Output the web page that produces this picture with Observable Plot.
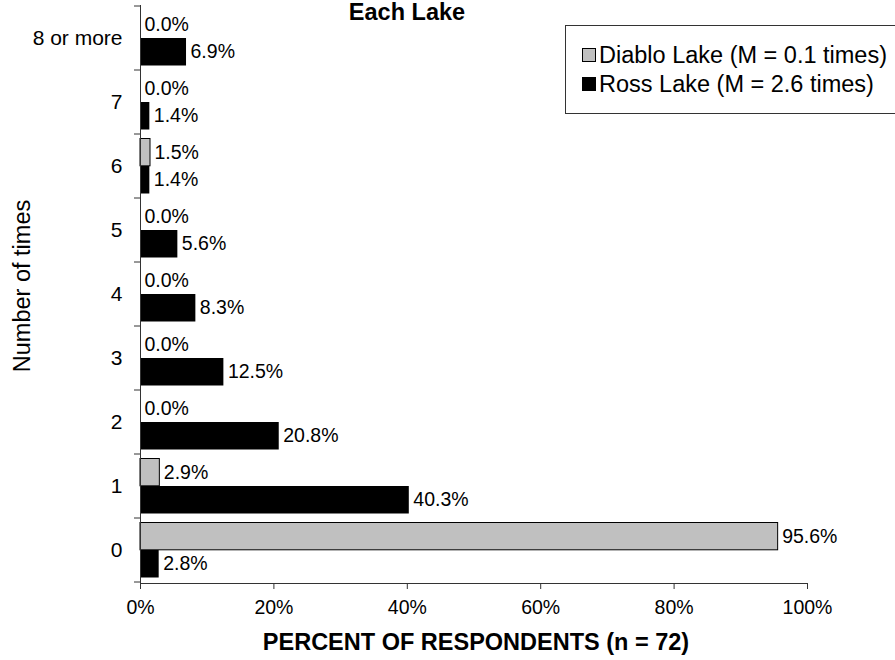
<!DOCTYPE html>
<html>
<head>
<meta charset="utf-8">
<script src="https://cdn.jsdelivr.net/npm/d3@7"></script>
<script src="https://cdn.jsdelivr.net/npm/@observablehq/plot@0.6"></script>
<style>
  html, body { margin: 0; padding: 0; background: #fff; }
  #chart { width: 895px; height: 660px; }
</style>
</head>
<body>
<div id="chart"></div>
<script>
// ---- data ----
const categories = ["8 or more", "7", "6", "5", "4", "3", "2", "1", "0"];
const diabloValues = [0.0, 0.0, 1.5, 0.0, 0.0, 0.0, 0.0, 2.9, 95.6];
const rossValues = [6.9, 1.4, 1.4, 5.6, 8.3, 12.5, 20.8, 40.3, 2.8];
const xTicks = [0, 20, 40, 60, 80, 100];
const seriesNames = ["Diablo Lake (M = 0.1 times)", "Ross Lake (M = 2.6 times)"];
const seriesColors = ["#c0c0c0", "#000000"];
const titleText = "Each Lake";
const xTitle = "PERCENT OF RESPONDENTS (n = 72)";
const yTitle = "Number of times";

const diablo = categories.map((c, i) => ({cat: c, value: diabloValues[i]}));
const ross = categories.map((c, i) => ({cat: c, value: rossValues[i]}));
const fmt = d => d3.format(".1f")(d) + "%";
const FONT = "'Liberation Sans', Arial, Helvetica, sans-serif";
const AXIS = "#333";

// tick marks at the category band boundaries, from the y band scale
function boundaryTicks(index, scales, values, dimensions) {
  const y = scales.y;
  const dom = y.domain();
  const bw = typeof y.bandwidth === "function" ? y.bandwidth() : scales.scales.y.bandwidth;
  const x0 = scales.x(0);
  const g = d3.create("svg:g").attr("stroke", AXIS).attr("stroke-width", 1);
  const edges = dom.map(d => y(d)).concat([y(dom[dom.length - 1]) + bw]);
  for (const e of edges) {
    g.append("line").attr("x1", x0 - 6).attr("x2", x0).attr("y1", e).attr("y2", e);
  }
  return g.node();
}

const chart = Plot.plot({
  width: 895,
  height: 660,
  marginLeft: 140,
  marginRight: 88,
  marginTop: 5,
  marginBottom: 77,
  style: {fontFamily: FONT, fontSize: "20px", color: "#000", background: "transparent"},
  x: {domain: [0, 100], axis: null},
  y: {domain: categories, padding: 0, axis: null},
  marks: [
    Plot.barX(diablo, {x: "value", y: "cat", fill: seriesColors[0], stroke: "#000", strokeWidth: 1, insetTop: 4.5, insetBottom: 32.2}),
    Plot.barX(ross, {x: "value", y: "cat", fill: seriesColors[1], insetTop: 32, insetBottom: 4.5}),
    Plot.text(diablo, {x: "value", y: "cat", text: d => fmt(d.value), dx: 4, dy: -13.9, textAnchor: "start", fontSize: 19.5, fill: "#000"}),
    Plot.text(ross, {x: "value", y: "cat", text: d => fmt(d.value), dx: 4, dy: 13.7, textAnchor: "start", fontSize: 19.5, fill: "#000"}),
    Plot.ruleX([0], {stroke: AXIS}),
    Plot.frame({anchor: "bottom", stroke: AXIS}),
    boundaryTicks,
    // y tick labels
    Plot.text(categories, {y: d => d, frameAnchor: "left", dx: -18, textAnchor: "end", fontSize: 21, fill: "#000", ariaLabel: "y-tick-labels"}),
    // x ticks and tick labels
    Plot.axisX({ticks: xTicks, tickFormat: () => "", tickSize: 6, label: null, stroke: AXIS}),
    Plot.text(xTicks, {x: d => d, frameAnchor: "bottom", dy: 30, text: d => d + "%", fontSize: 19.5, fill: "#000"})
  ]
});

const svg = d3.select(chart);

// title (cropped at top in the reference)
svg.append("text")
  .attr("x", 407).attr("y", 20)
  .attr("text-anchor", "middle")
  .attr("font-family", FONT).attr("font-weight", "bold").attr("font-size", 23.5)
  .text(titleText);

// x axis title
svg.append("text")
  .attr("x", 476).attr("y", 650)
  .attr("text-anchor", "middle")
  .attr("font-family", FONT).attr("font-weight", "bold").attr("font-size", 23.5)
  .text(xTitle);

// y axis title
svg.append("text")
  .attr("transform", "translate(30,286) rotate(-90)")
  .attr("text-anchor", "middle")
  .attr("font-family", FONT).attr("font-size", 23.5)
  .text(yTitle);

// legend
const lg = svg.append("g").attr("font-family", FONT).attr("font-size", 23.5).attr("text-anchor", "start");
lg.append("rect").attr("x", 565.5).attr("y", 25.5).attr("width", 345).attr("height", 88)
  .attr("fill", "#fff").attr("stroke", AXIS);
seriesNames.forEach((name, i) => {
  const cy = 55 + i * 29;
  lg.append("rect").attr("x", 582.5).attr("y", cy - 6.5).attr("width", 13).attr("height", 13)
    .attr("fill", seriesColors[i]).attr("stroke", "#000");
  lg.append("text").attr("x", 599).attr("y", cy).attr("dy", "0.35em").attr("text-anchor", "start").text(name);
});

document.getElementById("chart").appendChild(chart);

// make the category labels as wide as in the reference ("8 or more" ≈ 89px)
try {
  const texts = svg.selectAll('g[aria-label="y-tick-labels"] text');
  let longest = null;
  texts.each(function() { if (this.textContent === categories[0]) longest = this; });
  if (longest) {
    const w = longest.getComputedTextLength();
    if (w > 0 && Math.abs(w - 89) > 4) {
      const fs = Math.max(16, Math.min(24, 21 * 89 / w));
      texts.style("font-size", fs + "px");
    }
  }
} catch (e) {}
</script>
</body>
</html>
